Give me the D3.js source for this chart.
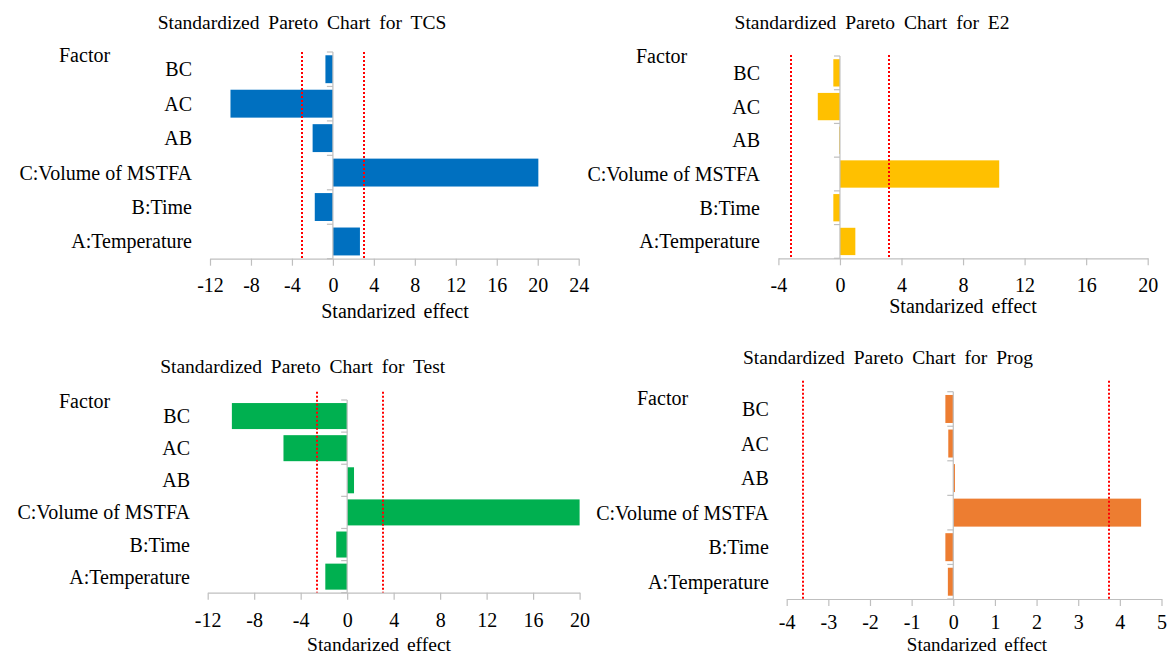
<!DOCTYPE html>
<html>
<head>
<meta charset="utf-8">
<script src="https://cdn.jsdelivr.net/npm/d3@7"></script>
<style>
  html, body { margin: 0; padding: 0; background: #fff; }
  svg { display: block; }
  svg text { font-family: "Liberation Serif", "Tinos", "Times New Roman", Times, "DejaVu Serif", serif; fill: #000; }
</style>
</head>
<body>
<svg id="chart" width="1168" height="655"></svg>
<script>
// Factors listed from the bottom of each chart to the top
const factors = ["A:Temperature", "B:Time", "C:Volume of MSTFA", "AB", "AC", "BC"];

// Standardized effects, same order as factors
const tcsEffects  = [2.64, -1.77, 20.06, -1.98, -10.0, -0.73];
const e2Effects   = [1.0, -0.43, 10.35, -0.05, -1.44, -0.43];
const testEffects = [-1.88, -0.94, 20.0, 0.59, -5.48, -9.92];
const progEffects = [-0.13, -0.19, 4.51, 0.04, -0.12, -0.19];

// Significance limits (red dotted lines)
const tcsLimits  = [-3.04, 3.08];
const e2Limits   = [-3.18, 3.17];
const testLimits = [-2.61, 3.12];
const progLimits = [-3.62, 3.74];

// Axis tick values
const tcsTicks  = [-12, -8, -4, 0, 4, 8, 12, 16, 20, 24];
const e2Ticks   = [-4, 0, 4, 8, 12, 16, 20];
const testTicks = [-12, -8, -4, 0, 4, 8, 12, 16, 20];
const progTicks = [-4, -3, -2, -1, 0, 1, 2, 3, 4, 5];

const titles = [
  "Standardized Pareto Chart for TCS",
  "Standardized Pareto Chart for E2",
  "Standardized Pareto Chart for Test",
  "Standardized Pareto Chart for Prog"
];

const SERIF = "'Liberation Serif', Tinos, 'Times New Roman', Times, 'DejaVu Serif', serif";
const svg = d3.select("#chart");
const AXIS_GREY = "#bfbfbf";

function drawPanel(cfg) {
  const g = svg.append("g").attr("font-family", SERIF);

  const x = d3.scaleLinear()
    .domain([cfg.ticks[0], cfg.ticks[cfg.ticks.length - 1]])
    .range([cfg.left, cfg.right]);

  const y = d3.scaleBand()
    .domain(factors.slice().reverse())
    .range([cfg.top, cfg.bottom])
    .paddingInner(0.19)
    .paddingOuter(0.095);

  // title
  g.append("text")
    .attr("x", cfg.titleX).attr("y", cfg.titleY)
    .attr("text-anchor", "middle")
    .style("font-family", SERIF)
    .style("font-size", "19.5px")
    .style("word-spacing", "4px")
    .text(cfg.title);

  // "Factor" heading
  g.append("text")
    .attr("x", cfg.factorX).attr("y", cfg.factorY)
    .style("font-family", SERIF)
    .style("font-size", "20px")
    .text("Factor");

  // bars
  g.selectAll("rect.bar")
    .data(factors.map((f, i) => ({ f, v: cfg.values[i] })))
    .join("rect")
    .attr("class", "bar")
    .attr("x", d => x(Math.min(0, d.v)))
    .attr("width", d => Math.abs(x(d.v) - x(0)))
    .attr("y", d => y(d.f))
    .attr("height", y.bandwidth())
    .attr("fill", cfg.color);

  // category axis at zero with ticks on band boundaries
  const step = y.step();
  g.append("line")
    .attr("x1", x(0)).attr("x2", x(0))
    .attr("y1", cfg.top).attr("y2", cfg.bottom)
    .attr("stroke", AXIS_GREY).attr("stroke-width", 1.2);
  g.selectAll("line.ytick")
    .data(d3.range(factors.length + 1))
    .join("line")
    .attr("class", "ytick")
    .attr("x1", x(0) - 6).attr("x2", x(0))
    .attr("y1", i => cfg.top + i * step)
    .attr("y2", i => cfg.top + i * step)
    .attr("stroke", AXIS_GREY).attr("stroke-width", 1.2);

  // category labels
  g.selectAll("text.cat")
    .data(factors)
    .join("text")
    .attr("class", "cat")
    .attr("x", cfg.labelRight)
    .attr("y", f => y(f) + y.bandwidth() / 2 + 7)
    .attr("text-anchor", "end")
    .style("font-family", SERIF)
    .style("font-size", "20px")
    .text(f => f);

  // significance limits
  g.selectAll("line.limit")
    .data(cfg.limits)
    .join("line")
    .attr("class", "limit")
    .attr("x1", d => Math.round(x(d))).attr("x2", d => Math.round(x(d)))
    .attr("y1", cfg.limitTop).attr("y2", cfg.bottom)
    .attr("stroke", "#ff0000")
    .attr("stroke-width", 2)
    .attr("stroke-dasharray", "2,2");

  // effect axis
  const axis = d3.axisBottom(x)
    .tickValues(cfg.ticks)
    .tickFormat(d => String(d))
    .tickSize(7)
    .tickSizeOuter(0)
    .tickPadding(cfg.tickBase - cfg.bottom - 7 - 14.2);
  const ax = g.append("g")
    .attr("transform", `translate(0,${cfg.bottom})`)
    .call(axis)
    .attr("font-family", SERIF);
  ax.select(".domain").attr("stroke", AXIS_GREY).attr("stroke-width", 1.2);
  ax.selectAll(".tick line").attr("stroke", AXIS_GREY).attr("stroke-width", 1.2);
  ax.selectAll(".tick text")
    .attr("fill", "#000")
    .style("font-family", SERIF)
    .style("font-size", "20px");

  // effect axis title
  g.append("text")
    .attr("x", cfg.axisTitleX).attr("y", cfg.axisTitleY)
    .attr("text-anchor", "middle")
    .style("font-family", SERIF)
    .style("font-size", cfg.axisTitleSize + "px")
    .style("word-spacing", "3px")
    .text("Standarized effect");
}

drawPanel({
  title: titles[0], values: tcsEffects, limits: tcsLimits, ticks: tcsTicks, color: "#0070c0",
  left: 210, right: 578.7, top: 52, bottom: 258.7, limitTop: 52,
  labelRight: 192, factorX: 59, factorY: 62,
  titleX: 302, titleY: 29, tickBase: 292, axisTitleX: 395, axisTitleY: 318, axisTitleSize: 20
});

drawPanel({
  title: titles[1], values: e2Effects, limits: e2Limits, ticks: e2Ticks, color: "#ffc000",
  left: 778.4, right: 1147.7, top: 56, bottom: 258.3, limitTop: 55,
  labelRight: 760, factorX: 636, factorY: 63,
  titleX: 872, titleY: 29, tickBase: 292, axisTitleX: 963, axisTitleY: 313, axisTitleSize: 20
});

drawPanel({
  title: titles[2], values: testEffects, limits: testLimits, ticks: testTicks, color: "#00b050",
  left: 207.7, right: 579.6, top: 400, bottom: 592.7, limitTop: 391.7,
  labelRight: 190, factorX: 59, factorY: 408,
  titleX: 302.7, titleY: 373, tickBase: 627, axisTitleX: 379, axisTitleY: 651, axisTitleSize: 19.5
});

drawPanel({
  title: titles[3], values: progEffects, limits: progLimits, ticks: progTicks, color: "#ed7d31",
  left: 786.7, right: 1161.5, top: 391.7, bottom: 599, limitTop: 380.7,
  labelRight: 768.8, factorX: 637, factorY: 405,
  titleX: 888, titleY: 364, tickBase: 629, axisTitleX: 977, axisTitleY: 650.5, axisTitleSize: 19
});
</script>
</body>
</html>
